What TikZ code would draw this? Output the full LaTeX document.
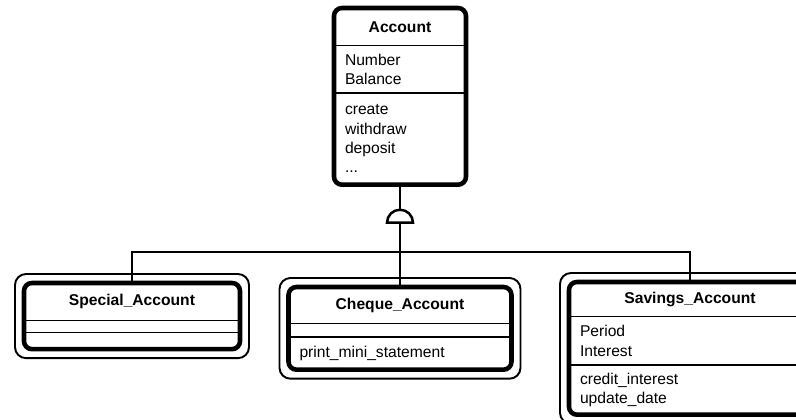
\documentclass[tikz,border=0pt]{standalone}
\usepackage{fontspec}
\setmainfont{Liberation Sans}
\usetikzlibrary{shapes.multipart,shapes.geometric,positioning,fit}
\newlength{\px}\setlength{\px}{0.02cm}
\newlength{\boxwd}
\newlength{\parta}
\newlength{\partb}
\newlength{\partc}
\tikzset{
  classbox/.style={rectangle split, rectangle split parts=3, rectangle split draw splits=false,
    draw, line width=2.6pt, rounded corners=8\px, inner xsep=11\px, inner ysep=0pt,
    outer sep=0pt, font={\fontsize{8.9}{11}\selectfont}},
  parts/.code n args={4}{\setlength{\boxwd}{#1\px}\setlength{\parta}{#2\px}%
    \setlength{\partb}{#3\px}\setlength{\partc}{#4\px}},
  frame/.style={draw, line width=1.1pt, rounded corners=11\px, inner sep=9\px},
  divider/.style={line width=1pt},
  link/.style={line width=1.4pt},
  inherit/.style={semicircle, draw, line width=1.4pt, fill=white, minimum width=26\px,
    inner sep=0pt, outer sep=0pt},
}
\newcommand{\classtext}[3]{\parbox[c][\parta][c]{\boxwd}{\centering\bfseries #1}%
  \nodepart{two}\parbox[c][\partb][c]{\boxwd}{\raggedright #2}%
  \nodepart{three}\parbox[c][\partc][c]{\boxwd}{\raggedright #3}}

\begin{document}
\begin{tikzpicture}[x=1\px, y=-1\px]
  \useasboundingbox (0,0) rectangle (796,420);
  \clip (0,0) rectangle (796,420);
  % base class
  \node[classbox, parts={110}{33}{43}{87}, anchor=north] (acc) at (400,8)
    {\classtext{Account}{Number\\Balance}{create\\withdraw\\deposit\\...}};
  % subclasses
  \node[classbox, parts={194}{33}{7}{12}, anchor=north] (sp) at (132,283)
    {\classtext{Special\_Account}{}{}};
  \node[classbox, parts={201}{32}{9}{28}, anchor=north] (ch) at (400,287)
    {\classtext{Cheque\_Account}{}{print\_mini\_statement}};
  \node[classbox, parts={220}{30}{44}{45}, anchor=north] (sv) at (690,282)
    {\classtext{Savings\_Account}{Period\\Interest}{credit\_interest\\update\_date}};
  \foreach \c in {acc,sp,ch,sv} {
    \draw[divider] (\c.text split west) -- (\c.text split east);
    \draw[divider] (\c.two split west) -- (\c.two split east);
  }
  \node[frame, fit=(sp)] (spframe) {};
  \node[frame, fit=(ch)] (chframe) {};
  \node[frame, fit=(sv)] (svframe) {};
  % inheritance
  \node[inherit, below=25\px of acc] (inh) {};
  \coordinate (bus) at (0,252);
  \draw[link] (acc) -- (inh);
  \draw[link] (inh.chord center) -- (ch.north);
  \draw[link] (sp.north) -- (sp.north |- bus) -- (sv.north |- bus) -- (sv.north);
\end{tikzpicture}
\end{document}
